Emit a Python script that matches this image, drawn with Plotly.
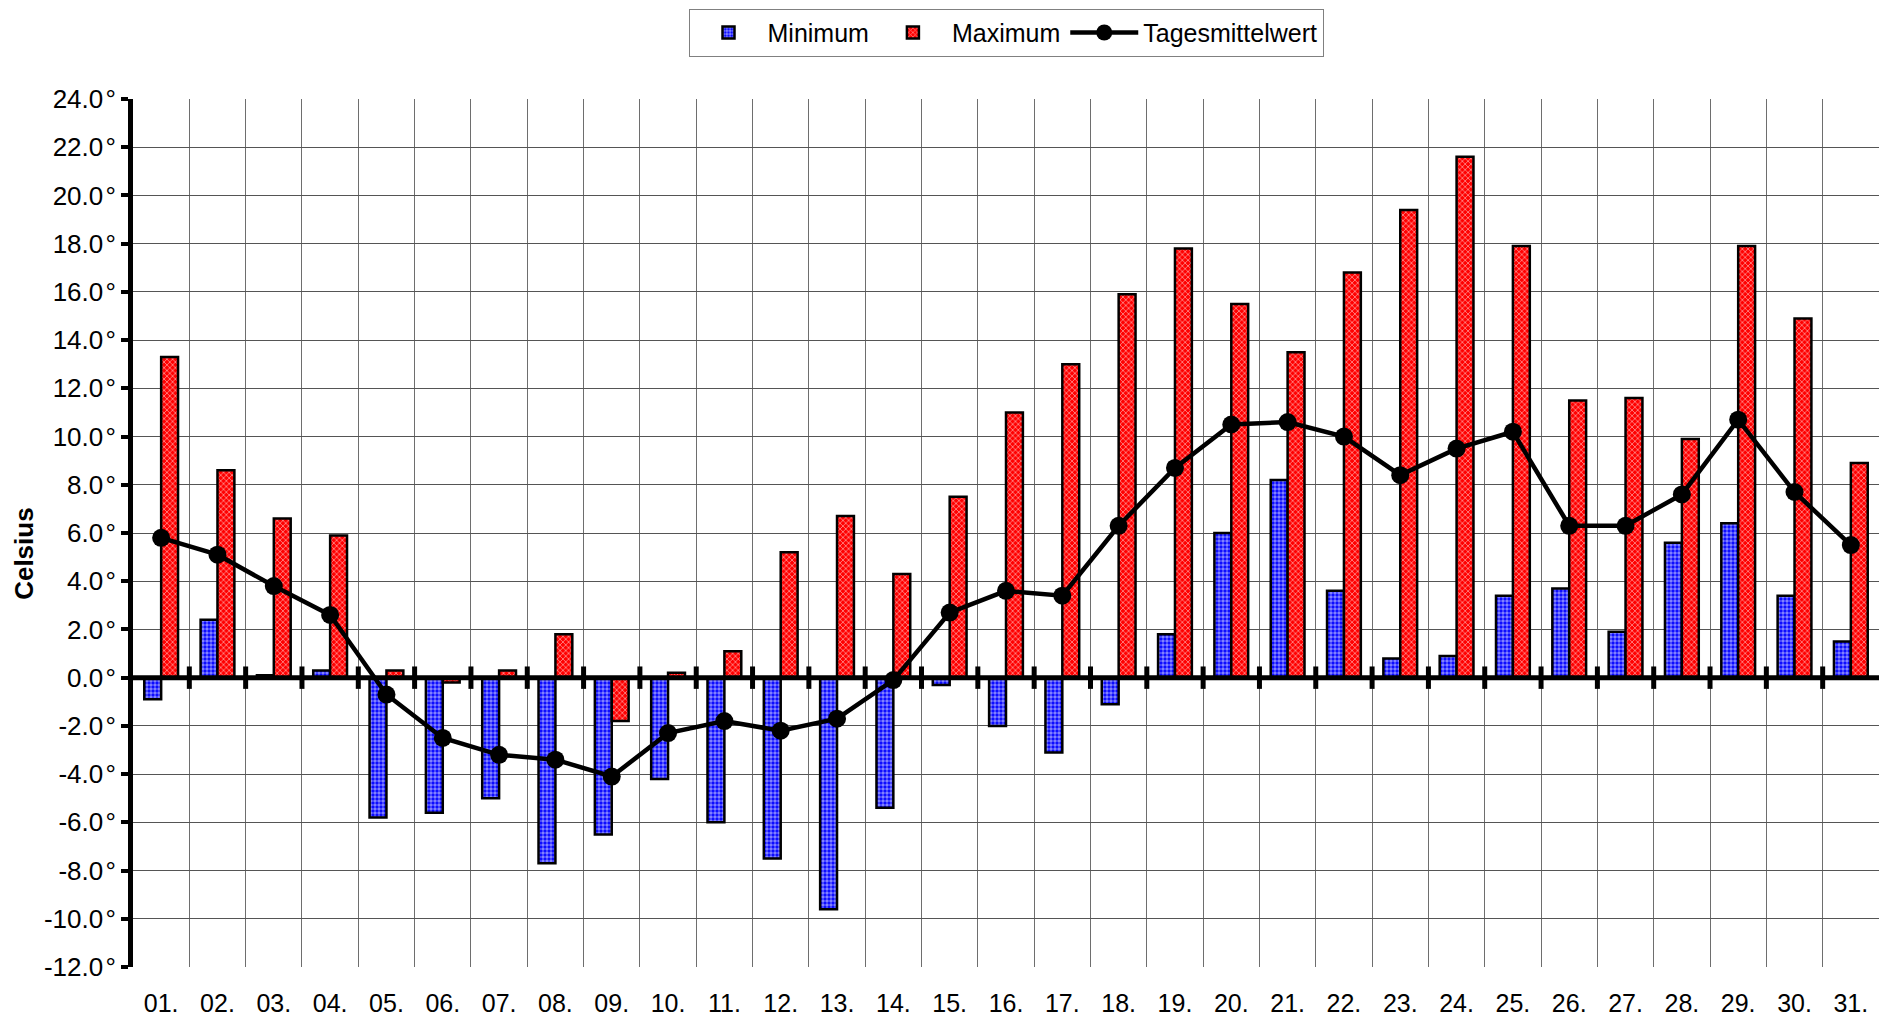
import plotly.graph_objects as go

days = [f"{d:02d}." for d in range(1, 32)]
minimum = [-0.9, 2.4, 0.1, 0.3, -5.8, -5.6, -5.0, -7.7, -6.5, -4.2, -6.0, -7.5, -9.6, -5.4, -0.3, -2.0,
           -3.1, -1.1, 1.8, 6.0, 8.2, 3.6, 0.8, 0.9, 3.4, 3.7, 1.9, 5.6, 6.4, 3.4, 1.5]
maximum = [13.3, 8.6, 6.6, 5.9, 0.3, -0.2, 0.3, 1.8, -1.8, 0.2, 1.1, 5.2, 6.7, 4.3, 7.5, 11.0,
           13.0, 15.9, 17.8, 15.5, 13.5, 16.8, 19.4, 21.6, 17.9, 11.5, 11.6, 9.9, 17.9, 14.9, 8.9]
mittel = [5.8, 5.1, 3.8, 2.6, -0.7, -2.5, -3.2, -3.4, -4.1, -2.3, -1.8, -2.2, -1.7, -0.1, 2.7, 3.6,
          3.4, 6.3, 8.7, 10.5, 10.6, 10.0, 8.4, 9.5, 10.2, 6.3, 6.3, 7.6, 10.7, 7.7, 5.5]
y_ticks = list(range(-12, 25, 2))

n = len(days)
xpos = list(range(1, n + 1))
bounds = [i + 0.5 for i in range(1, n)]

FONT = "Liberation Sans, Arial, sans-serif"

fig = go.Figure()
fig.add_trace(go.Bar(
    x=xpos, y=minimum, name="Minimum",
    marker=dict(color="#0000ff", line=dict(color="black", width=2.5),
                pattern=dict(shape=".", fgcolor="white", bgcolor="#0000ff", size=4, solidity=0.6,
                             fillmode="overlay")),
))
fig.add_trace(go.Bar(
    x=xpos, y=maximum, name="Maximum",
    marker=dict(color="#ff0000", line=dict(color="black", width=2.5),
                pattern=dict(shape="x", fgcolor="white", bgcolor="#ff0000", size=4, solidity=0.4,
                             fillmode="overlay")),
))
# zero axis line with crossing ticks
fig.add_trace(go.Scatter(
    x=[0.5, n + 0.5], y=[0, 0], mode="lines", line=dict(color="black", width=5),
    showlegend=False, hoverinfo="skip",
))
fig.add_trace(go.Scatter(
    x=bounds, y=[0] * len(bounds), mode="markers",
    marker=dict(symbol="line-ns", size=16, line=dict(color="black", width=5)),
    showlegend=False, hoverinfo="skip",
))
fig.add_trace(go.Scatter(
    x=xpos, y=mittel, name="Tagesmittelwert", mode="lines+markers",
    line=dict(color="black", width=4.5),
    marker=dict(symbol="circle", size=18, color="black"),
))

fig.update_layout(
    width=1871, height=1008,
    paper_bgcolor="white", plot_bgcolor="white",
    margin=dict(l=125, r=0, t=91, b=49, autoexpand=False),
    barmode="group", bargap=0.4, bargroupgap=0.0,
    font=dict(family=FONT, size=25, color="black"),
    legend=dict(orientation="h", x=0.5, xanchor="center", y=1.104, yanchor="top",
                bordercolor="#808080", borderwidth=1, bgcolor="white",
                font=dict(size=25), itemwidth=68, tracegroupgap=0),
    showlegend=True,
    annotations=[dict(text="<b>Celsius</b>", x=-0.0625, y=0.477, xref="paper", yref="paper",
                      xanchor="center", yanchor="middle", textangle=-90, showarrow=False,
                      font=dict(size=26, family=FONT))],
)
fig.update_xaxes(
    range=[0.5, n + 0.5], tickmode="array", tickvals=xpos, ticktext=days,
    showgrid=False, zeroline=False, showline=False, ticks="",
    ticklabelstandoff=19, tickfont=dict(size=25),
    minor=dict(tickmode="array", tickvals=bounds, showgrid=True, gridcolor="#6e6e6e", gridwidth=1, ticks=""),
)
fig.update_yaxes(
    range=[-12, 24], tickmode="array", tickvals=y_ticks,
    ticktext=[f"{v:.1f}\u200a°" for v in y_ticks],
    showgrid=True, gridcolor="#555555", gridwidth=1, zeroline=False,
    showline=True, linecolor="black", linewidth=5,
    ticks="outside", ticklen=7, tickwidth=4, tickcolor="black",
    tickfont=dict(size=26),
)

fig.write_html("out.html")
